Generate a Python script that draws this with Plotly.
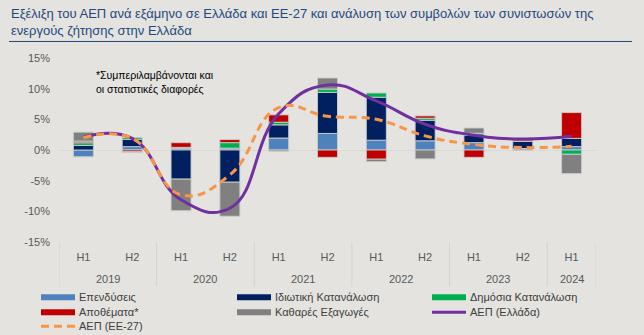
import plotly.graph_objects as go

categories = ["2019 H1", "2019 H2", "2020 H1", "2020 H2", "2021 H1", "2021 H2",
              "2022 H1", "2022 H2", "2023 H1", "2023 H2", "2024 H1"]
halves = ["H1", "H2", "H1", "H2", "H1", "H2", "H1", "H2", "H1", "H2", "H1"]
year_labels = ["2019", "2020", "2021", "2022", "2023", "2024"]

investment = [-1.1, 0.55, 0.27, 0.3, 1.95, 2.7, 1.6, 1.5, 1.2, 0.25, 0.55]
private_cons = [0.75, 1.2, -4.75, -5.25, 2.15, 6.7, 7.0, 3.35, 1.2, 1.15, 1.35]
public_cons = [0.43, 0.3, 0.16, 0.9, 0.43, 0.54, 0.7, 0.33, 0.33, 0.05, -0.7]
inventories = [0.27, -0.3, 0.76, 0.5, 1.2, -1.2, -1.5, 0.38, -1.2, 0.2, 4.2]
net_exports = [1.46, -0.1, -5.15, -5.55, -0.2, 1.8, -0.4, -1.45, 0.86, -0.05, -3.15]
gdp_greece = [2.1, 1.9, -8.1, -9.5, 5.9, 10.6, 8.0, 4.2, 2.4, 1.8, 2.25]
gdp_eu27 = [2.0, 1.9, -7.3, -4.05, 6.9, 5.5, 5.0, 2.3, 0.9, 0.4, 0.6]

ytick_vals = [-15, -10, -5, 0, 5, 10, 15]
ytick_text = ["-15%", "-10%", "-5%", "0%", "5%", "10%", "15%"]

names = ["Επενδύσεις", "Ιδιωτική Κατανάλωση", "Δημόσια Κατανάλωση",
         "Αποθέματα*", "Καθαρές Εξαγωγές", "ΑΕΠ (Ελλάδα)", "ΑΕΠ (ΕΕ-27)"]
colors = ["#4F81BD", "#002060", "#00B050", "#C00000", "#808080", "#7030A0", "#F79646"]

FONT = "Liberation Sans, Arial, sans-serif"
BG = "#E4E3DF"

# plot area in pixels
L, R, T, B = 59, 596, 57.6, 242.4
W, H = R - L, B - T


def px_x(p):
    return (p - L) / W


def px_y(p):
    return (B - p) / H


fig = go.Figure()

series = [investment, private_cons, public_cons, inventories, net_exports]
for vals, name, col in zip(series, names[:5], colors[:5]):
    fig.add_trace(go.Bar(
        x=categories, y=vals, name=name, showlegend=False,
        marker=dict(color=col, line=dict(color="rgba(205,205,205,0.9)", width=1)),
    ))

fig.add_trace(go.Scatter(
    x=categories, y=gdp_greece, name=names[5], mode="lines", showlegend=False,
    line=dict(color=colors[5], width=3, shape="spline", smoothing=1.3),
))
fig.add_trace(go.Scatter(
    x=categories, y=gdp_eu27, name=names[6], mode="lines", showlegend=False,
    line=dict(color=colors[6], width=3, shape="spline", smoothing=1.3, dash="8px,5px"),
))

fig.update_layout(
    width=644, height=335,
    margin=dict(l=L, r=644 - R, t=T, b=335 - B),
    paper_bgcolor=BG, plot_bgcolor=BG,
    barmode="relative", bargap=0.59,
    showlegend=False,
    font=dict(family=FONT, size=11, color="#595959"),
    xaxis=dict(
        type="category", showgrid=False, zeroline=False, showline=False,
        ticks="", tickvals=categories, ticktext=halves, ticklabelstandoff=7,
        range=[-0.5, len(categories) - 0.5],
        tickfont=dict(family=FONT, size=11, color="#595959"),
    ),
    yaxis=dict(
        range=[-15, 15], tickvals=ytick_vals, ticktext=ytick_text,
        showgrid=False, zeroline=True, zerolinecolor="#D9D9D6", zerolinewidth=1,
        showline=False, ticks="", ticklabelstandoff=8,
        tickfont=dict(family=FONT, size=11, color="#595959"),
    ),
)

# year labels and dividers (grouping of the category axis)
starts = []
for i, c in enumerate(categories):
    y = c.split()[0]
    if i == 0 or categories[i - 1].split()[0] != y:
        starts.append(i)
bounds = starts + [len(categories)]
for k, yl in enumerate(year_labels):
    a, b = bounds[k], bounds[k + 1]
    fig.add_annotation(
        xref="x", yref="paper", x=(a + b - 1) / 2, y=px_y(280),
        text=yl, showarrow=False, xanchor="center", yanchor="middle",
        font=dict(family=FONT, size=11, color="#595959"),
    )
for bnd in bounds:
    fig.add_shape(
        type="line", xref="x", yref="paper", x0=bnd - 0.5, x1=bnd - 0.5,
        y0=px_y(243), y1=px_y(287), line=dict(color="#D2D2CE", width=1),
    )

# Title
fig.add_annotation(
    xref="paper", yref="paper", x=px_x(9), y=px_y(3),
    xanchor="left", yanchor="top", align="left", showarrow=False,
    text="Εξέλιξη του ΑΕΠ ανά εξάμηνο σε Ελλάδα και ΕΕ-27 και ανάλυση των συμβολών των συνιστωσών της<br>ενεργούς ζήτησης στην Ελλάδα",
    font=dict(family=FONT, size=13, color="#1F497D"),
)
fig.add_shape(
    type="line", xref="paper", yref="paper",
    x0=px_x(9), x1=px_x(632), y0=px_y(41), y1=px_y(41),
    line=dict(color="#1F497D", width=1),
)
# Note
fig.add_annotation(
    xref="paper", yref="paper", x=px_x(94), y=px_y(67),
    xanchor="left", yanchor="top", align="left", showarrow=False,
    text="*Συμπεριλαμβάνονται και<br>οι στατιστικές διαφορές",
    font=dict(family=FONT, size=10.5, color="#000000"),
)

# Legend (3 columns)
col_x = [41, 237, 432]
row_y = [298, 313, 327]
for i, (name, col) in enumerate(zip(names, colors)):
    cx, ry = col_x[i % 3], row_y[i // 3]
    if i < 5:
        lw, dash = 6, "solid"
    elif i == 5:
        lw, dash = 3, "solid"
    else:
        lw, dash = 3, "8px,5px"
    fig.add_shape(
        type="line", xref="paper", yref="paper",
        x0=px_x(cx), x1=px_x(cx + 34), y0=px_y(ry), y1=px_y(ry),
        line=dict(color=col, width=lw, dash=dash),
    )
    fig.add_annotation(
        xref="paper", yref="paper", x=px_x(cx + 36), y=px_y(ry),
        xanchor="left", yanchor="middle", showarrow=False, text=name,
        font=dict(family=FONT, size=11, color="#404040"),
    )

fig.write_html("out.html")
